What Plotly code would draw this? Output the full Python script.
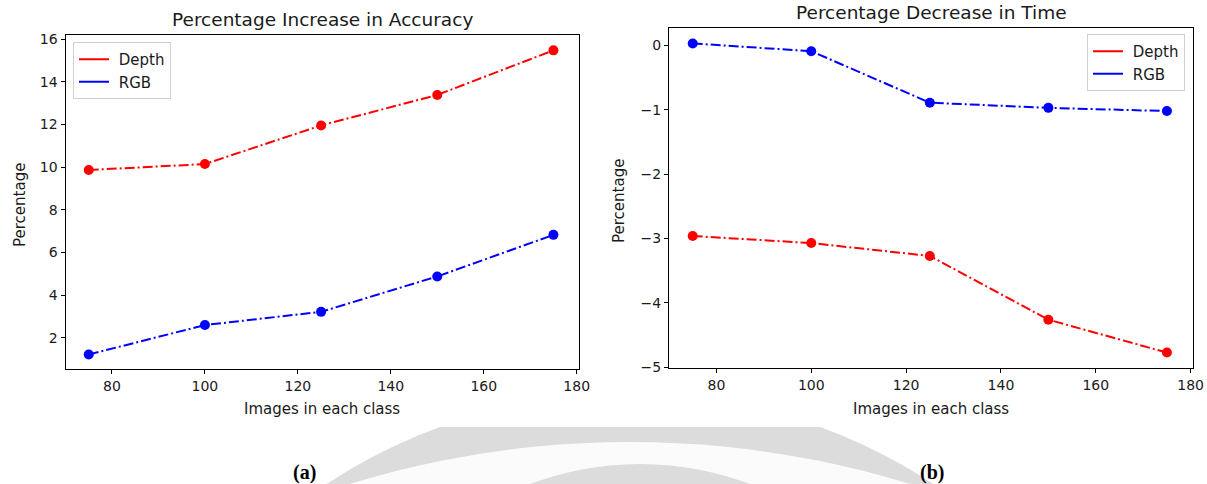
import plotly.graph_objects as go
from plotly.subplots import make_subplots

# ---- data ----
images_per_class = [75, 100, 125, 150, 175]
acc_depth = [9.87, 10.15, 11.96, 13.39, 15.48]
acc_rgb = [1.22, 2.60, 3.22, 4.88, 6.83]
time_depth = [-2.96, -3.07, -3.27, -4.26, -4.77]
time_rgb = [0.03, -0.09, -0.89, -0.97, -1.02]
x_ticks = [80, 100, 120, 140, 160, 180]
acc_ticks = [2, 4, 6, 8, 10, 12, 14, 16]
time_ticks = [0, -1, -2, -3, -4, -5]
time_tick_text = ["0", "\u22121", "\u22122", "\u22123", "\u22124", "\u22125"]

W, H = 1207, 484
RED = "#ff0000"
BLUE = "#0000ff"
FONT = "DejaVu Sans"
TXT = "#1a1a1a"


def px(x):
    return x / W


def py(y):
    return 1 - y / H


fig = make_subplots(rows=1, cols=2)

dash = "10px,3px,2px,3px"
for col, (dep, rgb) in enumerate([(acc_depth, acc_rgb), (time_depth, time_rgb)], start=1):
    fig.add_trace(go.Scatter(x=images_per_class, y=dep, mode="lines+markers",
                             line=dict(color=RED, width=2, dash=dash),
                             marker=dict(color=RED, size=10), showlegend=False),
                  row=1, col=col)
    fig.add_trace(go.Scatter(x=images_per_class, y=rgb, mode="lines+markers",
                             line=dict(color=BLUE, width=2, dash=dash),
                             marker=dict(color=BLUE, size=10), showlegend=False),
                  row=1, col=col)
    leg = "legend" if col == 1 else "legend2"
    fig.add_trace(go.Scatter(x=[None], y=[None], mode="lines", name=" Depth",
                             line=dict(color=RED, width=2), legend=leg),
                  row=1, col=col)
    fig.add_trace(go.Scatter(x=[None], y=[None], mode="lines", name=" RGB",
                             line=dict(color=BLUE, width=2), legend=leg),
                  row=1, col=col)

axis_common = dict(showline=True, mirror=True, linecolor="black", linewidth=1,
                   ticks="outside", ticklen=4, tickcolor="black", showgrid=False,
                   zeroline=False, automargin=False,
                   tickfont=dict(family=FONT, size=14, color=TXT))

fig.update_xaxes(**axis_common, range=[70, 180.5], tickvals=x_ticks)
fig.update_layout(
    xaxis=dict(domain=[px(65.5), px(579)]),
    xaxis2=dict(domain=[px(669), px(1193)]),
    yaxis=dict(**axis_common, domain=[py(369), py(35)], range=[0.54, 16.2],
               tickvals=acc_ticks),
    yaxis2=dict(**axis_common, domain=[py(368), py(28)], range=[-5.01, 0.27],
                tickvals=time_ticks, ticktext=time_tick_text),
)

legend_style = dict(bgcolor="rgba(255,255,255,0.8)", bordercolor="#d0d0d0", borderwidth=1,
                    font=dict(family=FONT, size=15, color=TXT), tracegroupgap=0,
                    itemwidth=30)
fig.update_layout(
    legend=dict(**legend_style, x=px(73), y=py(42), xanchor="left", yanchor="top"),
    legend2=dict(**legend_style, x=px(1185), y=py(34), xanchor="right", yanchor="top"),
)

ann = []


def add_text(text, x, y, size, family=FONT, angle=0, color=TXT):
    ann.append(dict(text=text, x=px(x), y=py(y), xref="paper", yref="paper",
                    xanchor="center", yanchor="middle", textangle=angle,
                    showarrow=False, font=dict(family=family, size=size, color=color)))


# titles
add_text("Percentage Increase in Accuracy", 322, 20, 18.5)
add_text("Percentage Decrease in Time", 931, 13, 18.5)
# axis labels
for cx in (322, 931):
    add_text("Images in each class", cx, 409, 15)
add_text("Percentage", 20, 205, 15, angle=-90)
add_text("Percentage", 619, 201, 15, angle=-90)
# panel labels
add_text("<b>(a)</b>", 304, 472, 20, family="Liberation Serif", color="black")
add_text("<b>(b)</b>", 932, 472, 20, family="Liberation Serif", color="black")

# faint watermark behind the figure
GREY = "#dcdcdc"
shapes = [
    dict(type="circle", xref="paper", yref="paper", layer="below", line_width=0,
         fillcolor=GREY, x0=px(630 - 551), x1=px(630 + 551), y0=py(944 + 551), y1=py(944 - 551)),
    dict(type="circle", xref="paper", yref="paper", layer="below", line_width=0,
         fillcolor="#fbfbfb", x0=px(630 - 954), x1=px(630 + 954), y0=py(1396 + 954), y1=py(1396 - 954)),
    dict(type="circle", xref="paper", yref="paper", layer="below", line_width=0,
         fillcolor=GREY, x0=px(640 - 312), x1=px(640 + 312), y0=py(776 + 312), y1=py(776 - 312)),
    dict(type="rect", xref="paper", yref="paper", layer="below", line_width=0,
         fillcolor="white", x0=0, x1=1, y0=py(427), y1=1),
]

fig.update_layout(
    width=W, height=H, margin=dict(l=0, r=0, t=0, b=0, autoexpand=False),
    paper_bgcolor="white", plot_bgcolor="rgba(0,0,0,0)",
    annotations=ann, shapes=shapes,
)

fig.write_html("out.html", config={"displayModeBar": False},
               post_script="document.body.style.margin='0';document.body.style.overflow='hidden';")
